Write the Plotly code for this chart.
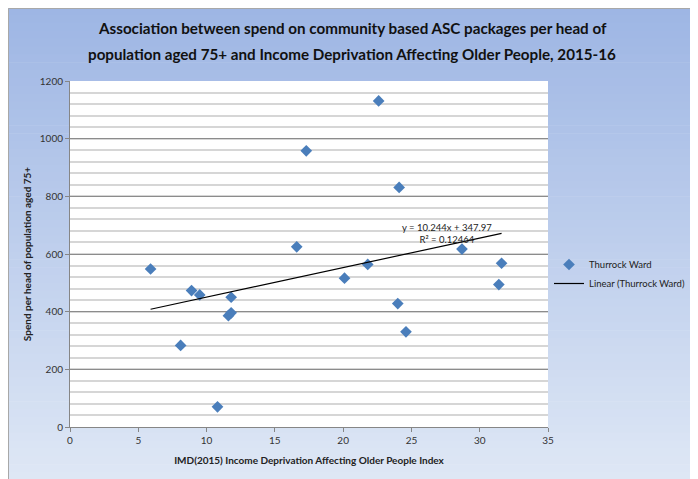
import numpy as np
import plotly.graph_objects as go

# Data
imd_index = [5.9, 8.1, 8.9, 9.5, 10.8, 11.6, 11.8, 11.8, 16.6, 17.3, 20.1, 21.8,
             22.6, 24.0, 24.1, 24.6, 28.7, 31.4, 31.6]
spend_per_head = [548, 283, 473, 458, 70, 386, 450, 396, 625, 958, 516, 564,
                  1131, 428, 831, 330, 617, 494, 568]
trend_slope = 10.244
trend_intercept = 347.97
r_squared = 0.12464
x_ticks = [0, 5, 10, 15, 20, 25, 30, 35]
y_ticks = [0, 200, 400, 600, 800, 1000, 1200]
title_lines = ["Association between spend on community based ASC packages per head of",
               "population aged 75+ and Income Deprivation Affecting Older People, 2015-16"]

FONT = "Lato"
W, H = 690, 471
L, R, T, B = 62, 150, 73, 52
pw, ph = W - L - R, H - T - B

def px_to_paper_x(px):
    return (px - L) / pw

def py_to_paper_y(py):
    return (H - B - py) / ph

shapes = []
# gradient background (blue, top to bottom)
top = np.array([158, 182, 228])
bot = np.array([222, 231, 245])
n = 60
for i in range(n):
    f = i / (n - 1)
    c = top + (bot - top) * f
    a = -1 + (H + 2) * i / n
    b = -1 + (H + 2) * (i + 1) / n + 0.6
    shapes.append(dict(type="rect", xref="paper", yref="paper", layer="below",
                       x0=px_to_paper_x(-1), x1=px_to_paper_x(W + 1),
                       y0=py_to_paper_y(a), y1=py_to_paper_y(b),
                       line=dict(width=0),
                       fillcolor="rgb(%d,%d,%d)" % tuple(c.round())))
# thin outer border
shapes.append(dict(type="rect", xref="paper", yref="paper", layer="below",
                   x0=px_to_paper_x(0.5), x1=px_to_paper_x(W + 5),
                   y0=py_to_paper_y(0.5), y1=py_to_paper_y(H + 5),
                   line=dict(width=1, color="#a8a8a8"), fillcolor="rgba(0,0,0,0)"))
# white plot area
shapes.append(dict(type="rect", xref="x", yref="y", layer="below",
                   x0=x_ticks[0], x1=x_ticks[-1], y0=y_ticks[0], y1=y_ticks[-1],
                   line=dict(width=0), fillcolor="white"))

fig = go.Figure()
fig.add_trace(go.Scatter(
    x=imd_index, y=spend_per_head, mode="markers", name="Thurrock Ward",
    marker=dict(symbol="diamond", size=9, color="#4a7ebb"),
))
xs = np.array([min(imd_index), max(imd_index)])
fig.add_trace(go.Scatter(
    x=xs, y=trend_slope * xs + trend_intercept, mode="lines",
    name="Linear (Thurrock Ward)", line=dict(color="black", width=1.2),
))

fig.add_annotation(x=27.6, y=672, xref="x", yref="y", showarrow=False,
                   xanchor="center", yanchor="middle",
                   text="y = 10.244x + 347.97<br>R² = %s" % r_squared,
                   font=dict(family=FONT, size=9.5, color="#222"),
                   align="center")

for line_text, cy in zip(title_lines, [20, 46]):
    fig.add_annotation(x=px_to_paper_x(344), y=py_to_paper_y(cy), xref="paper", yref="paper",
                       xanchor="center", yanchor="middle", showarrow=False,
                       text="<b>%s</b>" % line_text,
                       font=dict(family=FONT, size=15.2, color="#111"))

fig.update_layout(
    width=W, height=H,
    margin=dict(l=L, r=R, t=T, b=B),
    paper_bgcolor="white", plot_bgcolor="rgba(0,0,0,0)",
    shapes=shapes,
    font=dict(family=FONT, size=10, color="#333"),
    legend=dict(xref="container", yref="container",
                x=541 / W, y=1 - 242 / H, xanchor="left", yanchor="top",
                bgcolor="rgba(0,0,0,0)", font=dict(family=FONT, size=9.5, color="#222"),
                tracegroupgap=0, itemwidth=30),
    showlegend=True,
)
fig.update_xaxes(range=[x_ticks[0], x_ticks[-1]], tickvals=x_ticks, showgrid=False,
                 zeroline=False, showline=True, linecolor="#868686", linewidth=1,
                 ticks="outside", ticklen=4, tickcolor="#868686", automargin=False,
                 tickfont=dict(family=FONT, size=10, color="#333"),
                 title=dict(text="<b>IMD(2015) Income Deprivation Affecting Older People Index</b>",
                            font=dict(family=FONT, size=10, color="#222"), standoff=11))
fig.update_yaxes(range=[y_ticks[0], y_ticks[-1]], tickvals=y_ticks,
                 showgrid=True, gridcolor="#8c8c8c", gridwidth=1,
                 minor=dict(dtick=40, showgrid=True, gridcolor="#d6d6d6", gridwidth=1.5),
                 zeroline=False, showline=True, linecolor="#868686", linewidth=1,
                 ticks="outside", ticklen=4, tickcolor="#868686", automargin=False,
                 tickfont=dict(family=FONT, size=10, color="#333"),
                 title=dict(text="<b>Spend per head of population aged 75+</b>",
                            font=dict(family=FONT, size=10, color="#222"), standoff=6))

fig.write_html("out.html")
